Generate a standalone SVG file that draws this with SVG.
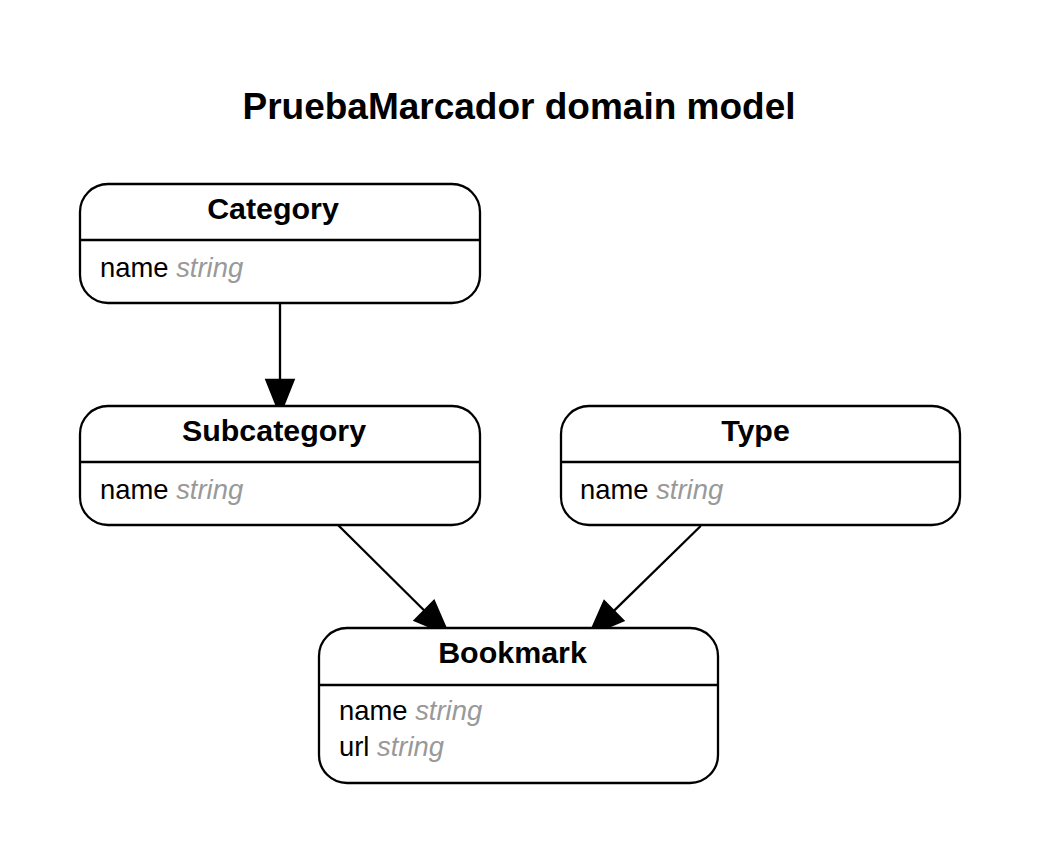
<svg xmlns="http://www.w3.org/2000/svg" width="1042" height="867" viewBox="0 0 1042 867">
<style>
.box{fill:#fff;stroke:#000;stroke-width:2.3}
.div{stroke:#000;stroke-width:2.3}
.ttl{font-family:"Liberation Sans",Arial,sans-serif;font-weight:bold;font-size:30.4px;fill:#000;text-anchor:middle}
.attr{font-family:"Liberation Sans",Arial,sans-serif;font-size:27.4px;fill:#000}
.typ{fill:#999999;font-style:italic}
.edge{stroke:#000;stroke-width:2.3;fill:none}
</style>
<defs>
<marker id="arr" markerUnits="userSpaceOnUse" markerWidth="40" markerHeight="40" refX="0" refY="0" orient="auto" viewBox="-2 -13 30 26" overflow="visible">
<path d="M0,-10 L25,0 L0,10 Z" fill="#000" stroke="#000" stroke-width="2"/>
</marker>
</defs>
<rect width="1042" height="867" fill="#fff"/>
<text x="519" y="119" font-family="'Liberation Sans',Arial,sans-serif" font-weight="bold" font-size="37" text-anchor="middle">PruebaMarcador domain model</text>
<g id="connectors">
<line class="edge" x1="280" y1="303" x2="280" y2="380" marker-end="url(#arr)"/>
<line class="edge" x1="338" y1="525" x2="424.5" y2="610.8" marker-end="url(#arr)"/>
<line class="edge" x1="700.7" y1="526" x2="613.6" y2="611.1" marker-end="url(#arr)"/>
</g>
<g id="category">
<rect class="box" x="80" y="184" width="400" height="119" rx="28" ry="28"/>
<line class="div" x1="80" y1="240" x2="480" y2="240"/>
<text class="ttl" x="273" y="219">Category</text>
<text class="attr" x="100" y="277">name <tspan class="typ">string</tspan></text>
</g>
<g id="subcategory">
<rect class="box" x="80" y="406" width="400" height="119" rx="28" ry="28"/>
<line class="div" x1="80" y1="462" x2="480" y2="462"/>
<text class="ttl" x="274" y="441">Subcategory</text>
<text class="attr" x="100" y="499">name <tspan class="typ">string</tspan></text>
</g>
<g id="type">
<rect class="box" x="561" y="406" width="399" height="119" rx="28" ry="28"/>
<line class="div" x1="561" y1="462" x2="960" y2="462"/>
<text class="ttl" x="755.5" y="441">Type</text>
<text class="attr" x="580" y="499">name <tspan class="typ">string</tspan></text>
</g>
<g id="bookmark">
<rect class="box" x="319" y="628" width="399" height="155" rx="28" ry="28"/>
<line class="div" x1="319" y1="685" x2="718" y2="685"/>
<text class="ttl" x="512.5" y="663">Bookmark</text>
<text class="attr" x="339" y="720">name <tspan class="typ">string</tspan></text>
<text class="attr" x="339" y="756">url <tspan class="typ">string</tspan></text>
</g>
</svg>
